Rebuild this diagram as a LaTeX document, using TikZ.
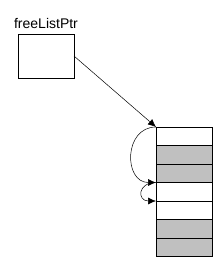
\documentclass[tikz,border=0pt]{standalone}
\usepackage{fontspec}
\setmainfont{Liberation Sans}
\usetikzlibrary{arrows.meta,positioning}
\definecolor{cellgray}{RGB}{192,192,192}

\begin{document}
\begin{tikzpicture}[x=1pt, y=-1pt,
    cell/.style={draw, line width=0.8pt, minimum width=56pt, minimum height=18.5pt,
                 inner sep=0pt, outer sep=0pt},
    ar/.style={-{Latex[length=8pt, width=7pt]}, line width=0.5pt}
  ]
  \useasboundingbox (0,0) rectangle (224,268);
  \node[cell, minimum height=44pt, anchor=north west] (ptr) at (18,34) {};
  \node[font=\fontsize{14}{16}\selectfont, anchor=base] (lbl) at (46,28) {freeListPtr};

  \node[cell, fill=white, anchor=north west] (r1) at (156,127) {};
  \foreach \i/\j/\c in {2/1/cellgray, 3/2/cellgray, 4/3/white, 5/4/white, 6/5/cellgray, 7/6/cellgray}
    \node[cell, fill=\c, below=0pt of r\j] (r\i) {};

  \draw[ar] (ptr.east) -- (r1.north west);
  \draw[ar] (r1.north west) to[out=180, in=180, looseness=1.5] (r4.north west);
  \draw[ar] (r4.north west) to[out=180, in=180, looseness=2.6] (r5.north west);
\end{tikzpicture}
\end{document}
